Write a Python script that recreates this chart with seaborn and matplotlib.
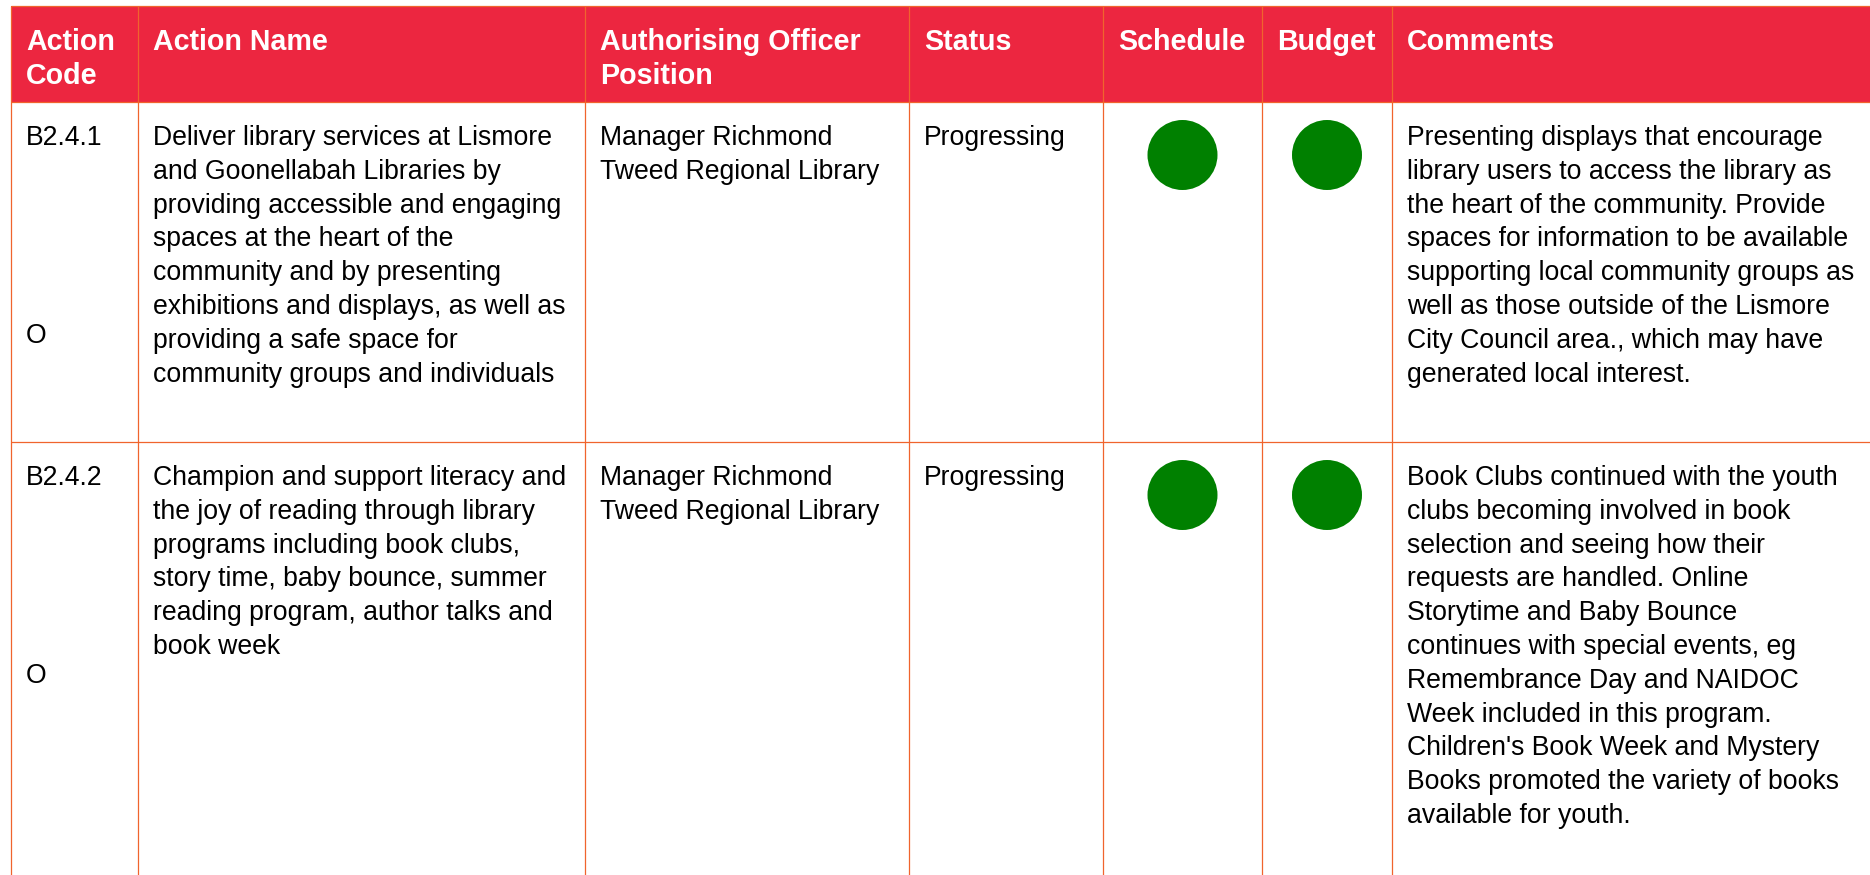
import matplotlib
matplotlib.use("Agg")
import matplotlib.pyplot as plt
import seaborn as sns
import pandas as pd
from matplotlib.patches import Rectangle

# ============ Data ============
HEADERS = [["Action", "Code"], ["Action Name"], ["Authorising Officer", "Position"],
           ["Status"], ["Schedule"], ["Budget"], ["Comments"]]

ACTION_CODES = ["B2.4.1", "B2.4.2"]
ACTION_TYPES = ["O", "O"]
ACTION_NAMES = [
    ["Deliver library services at Lismore", "and Goonellabah Libraries by",
     "providing accessible and engaging", "spaces at the heart of the",
     "community and by presenting", "exhibitions and displays, as well as",
     "providing a safe space for", "community groups and individuals"],
    ["Champion and support literacy and", "the joy of reading through library",
     "programs including book clubs,", "story time, baby bounce, summer",
     "reading program, author talks and", "book week"],
]
OFFICERS = [
    ["Manager Richmond", "Tweed Regional Library"],
    ["Manager Richmond", "Tweed Regional Library"],
]
STATUSES = ["Progressing", "Progressing"]
SCHEDULE = ["green", "green"]
BUDGET = ["green", "green"]
COMMENTS = [
    ["Presenting displays that encourage", "library users to access the library as",
     "the heart of the community. Provide", "spaces for information to be available",
     "supporting local community groups as", "well as those outside of the Lismore",
     "City Council area., which may have", "generated local interest."],
    ["Book Clubs continued with the youth", "clubs becoming involved in book",
     "selection and seeing how their", "requests are handled. Online",
     "Storytime and Baby Bounce", "continues with special events, eg",
     "Remembrance Day and NAIDOC", "Week included in this program.",
     "Children's Book Week and Mystery", "Books promoted the variety of books",
     "available for youth."],
]

# ============ Layout (pixels) ============
W, H = 1870, 875
COL_EDGES = [11, 138, 585, 909, 1103, 1262, 1392, 1875]
TABLE_TOP = 6
HEADER_BOTTOM = 102
ROW_TOPS = [102, 442]
PAD = 15
LINE = 33.8

HEADER_RED = "#EC2640"
BORDER = "#F0642D"
DOT_GREEN = "#008000"
STATUS_COLORS = {"green": DOT_GREEN}

sns.set_theme(style="white")
plt.rcParams['font.family'] = ['Liberation Sans', 'DejaVu Sans']
BODY_SIZE = 19.2
HEAD_SIZE = 20.6

fig = plt.figure(figsize=(W / 100, H / 100), dpi=100)
ax = fig.add_axes([0, 0, 1, 1])
ax.set_xlim(0, W)
ax.set_ylim(H, 0)
ax.axis("off")

# header band
ax.add_patch(Rectangle((COL_EDGES[0], TABLE_TOP), COL_EDGES[-1] - COL_EDGES[0],
                       HEADER_BOTTOM - TABLE_TOP, facecolor=HEADER_RED, edgecolor="none", zorder=1))

# grid lines
ax.vlines(COL_EDGES[:-1], TABLE_TOP, H + 5, color=BORDER, lw=0.9, zorder=2)
ax.hlines([TABLE_TOP, HEADER_BOTTOM, ROW_TOPS[1]], COL_EDGES[0], W + 5, color=BORDER, lw=0.9, zorder=2)

def put_lines(col, top, lines, offset=43, **kw):
    x = COL_EDGES[col] + PAD
    for i, txt in enumerate(lines):
        ax.text(x, top + offset + i * LINE, txt, va="baseline", ha="left", zorder=3, **kw)

# header texts
for c, lines in enumerate(HEADERS):
    x = COL_EDGES[c] + PAD
    for i, txt in enumerate(lines):
        ax.text(x, TABLE_TOP + 44 + i * 34.5, txt, va="baseline", ha="left",
                color="white", fontsize=HEAD_SIZE, fontweight="bold", zorder=3)

# body rows
for r, top in enumerate(ROW_TOPS):
    put_lines(0, top, [ACTION_CODES[r]], fontsize=BODY_SIZE, color="black")
    put_lines(0, top, [ACTION_TYPES[r]], offset=241, fontsize=BODY_SIZE, color="black")
    put_lines(1, top, ACTION_NAMES[r], fontsize=BODY_SIZE, color="black")
    put_lines(2, top, OFFICERS[r], fontsize=BODY_SIZE, color="black")
    put_lines(3, top, [STATUSES[r]], fontsize=BODY_SIZE, color="black")
    put_lines(6, top, COMMENTS[r], fontsize=BODY_SIZE, color="black")

# status dots
dots = pd.DataFrame({
    "x": [(COL_EDGES[4] + COL_EDGES[5]) / 2] * len(SCHEDULE) + [(COL_EDGES[5] + COL_EDGES[6]) / 2] * len(BUDGET),
    "y": [t + 53 for t in ROW_TOPS] * 2,
    "status": SCHEDULE + BUDGET,
})
sns.scatterplot(data=dots, x="x", y="y", hue="status", palette=STATUS_COLORS,
                s=2540, linewidth=0, legend=False, ax=ax, zorder=4)
ax.set_xlim(0, W)
ax.set_ylim(H, 0)
ax.axis("off")

fig.savefig("out.png", dpi=100)
